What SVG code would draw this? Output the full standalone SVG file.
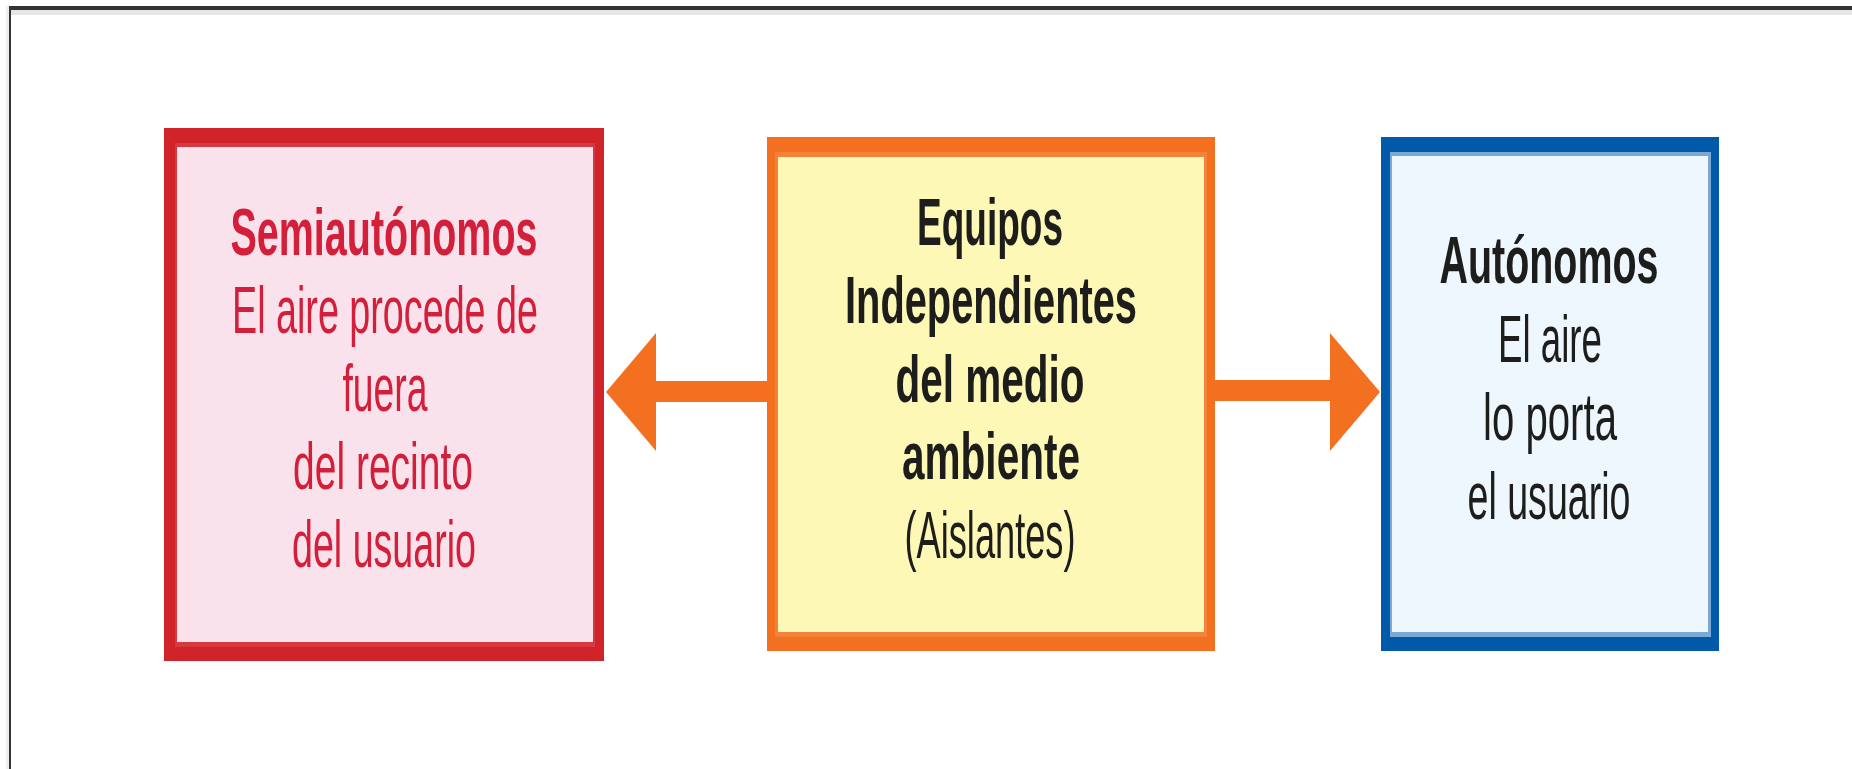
<svg xmlns="http://www.w3.org/2000/svg" width="1852" height="769" viewBox="0 0 1852 769">
  <style>
    text { font-family: "Liberation Sans", Arial, sans-serif; font-size: 66px; text-anchor: middle; }
    .b { font-weight: 700; }
    .r { font-weight: 400; }
    .red { fill: #d31f3a; }
    .dark { fill: #1d1d1b; }
    .arrow { fill: #f37021; }
  </style>
  <rect x="0" y="0" width="1852" height="769" fill="#ffffff"/>
  <g id="frame">
    <rect x="6" y="6" width="3" height="763" fill="#eeeeee"/>
    <rect x="11" y="10" width="1841" height="5" fill="#e6e6e6"/>
    <rect x="9" y="6" width="1843" height="4" fill="#333333"/>
    <rect x="9" y="6" width="2" height="763" fill="#333333"/>
  </g>
  <g id="connectors">
    <rect class="arrow" x="654" y="381" width="115" height="21"/>
    <polygon class="arrow" points="606,392 656,333 656,451"/>
    <rect class="arrow" x="1213" y="380" width="119" height="21"/>
    <polygon class="arrow" points="1330,333 1380,392 1330,451"/>
  </g>
  <g id="node-semiautonomos">
    <rect x="164" y="128" width="440" height="533" fill="#d1242a"/>
    <rect x="175" y="143" width="420" height="504" fill="#d6393f"/>
    <rect x="177" y="147" width="416" height="495" fill="#f9e2ec"/>
    <text class="b red" x="384" y="255" textLength="307" lengthAdjust="spacingAndGlyphs">Semiautónomos</text>
    <text class="r red" x="385" y="333" textLength="306" lengthAdjust="spacingAndGlyphs">El aire procede de</text>
    <text class="r red" x="385" y="411" textLength="85" lengthAdjust="spacingAndGlyphs">fuera</text>
    <text class="r red" x="383" y="489" textLength="180" lengthAdjust="spacingAndGlyphs">del recinto</text>
    <text class="r red" x="384" y="567" textLength="184" lengthAdjust="spacingAndGlyphs">del usuario</text>
  </g>
  <g id="node-equipos">
    <rect x="767" y="137" width="448" height="514" fill="#f37021"/>
    <rect x="775" y="152" width="432" height="485" fill="#f5823a"/>
    <rect x="778" y="157" width="426" height="475" fill="#fef8b6"/>
    <text class="b dark" x="990" y="245" textLength="146" lengthAdjust="spacingAndGlyphs">Equipos</text>
    <text class="b dark" x="991" y="323" textLength="292" lengthAdjust="spacingAndGlyphs">Independientes</text>
    <text class="b dark" x="990" y="402" textLength="189" lengthAdjust="spacingAndGlyphs">del medio</text>
    <text class="b dark" x="991" y="479" textLength="178" lengthAdjust="spacingAndGlyphs">ambiente</text>
    <text class="r dark" x="990" y="558" textLength="171" lengthAdjust="spacingAndGlyphs">(Aislantes)</text>
  </g>
  <g id="node-autonomos">
    <rect x="1381" y="137" width="338" height="514" fill="#005aa9"/>
    <rect x="1390" y="152" width="321" height="485" fill="#7ba9d3"/>
    <rect x="1392" y="156" width="316" height="476" fill="#eef7fd"/>
    <text class="b dark" x="1549" y="283" textLength="219" lengthAdjust="spacingAndGlyphs">Autónomos</text>
    <text class="r dark" x="1550" y="362" textLength="104" lengthAdjust="spacingAndGlyphs">El aire</text>
    <text class="r dark" x="1550" y="440" textLength="134" lengthAdjust="spacingAndGlyphs">lo porta</text>
    <text class="r dark" x="1549" y="519" textLength="163" lengthAdjust="spacingAndGlyphs">el usuario</text>
  </g>
</svg>
